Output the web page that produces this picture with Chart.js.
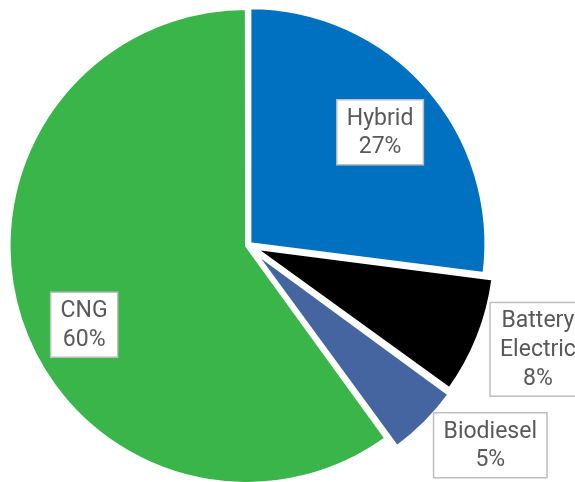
<!DOCTYPE html>
<html>
<head>
<meta charset="utf-8">
<script src="https://cdn.jsdelivr.net/npm/chart.js@4"></script>
<style>
  html, body { margin: 0; padding: 0; background: #fff; overflow: hidden; }
  #wrap { width: 575px; height: 482px; }
</style>
</head>
<body>
<div id="wrap"><canvas id="fuelPie" width="575" height="482"></canvas></div>
<script>
// fleet share by fuel type, clockwise from 12 o'clock
var categories = ['Hybrid', 'Battery Electric', 'Biodiesel', 'CNG'];
var shares = [27, 8, 5, 60];
var sliceColors = ['#0070C0', '#000000', '#4465A0', '#3AB54A'];
// chart.js shifts an arc by offset / 4 px
var sliceOffsets = [10, 30, 34, 6];

// where each callout box sits: distance from centre and a small angle nudge (deg)
var calloutPlace = [
    { dist: 174, nudge: 0.8 },
    { dist: 308, nudge: -1.9 },
    { dist: 314, nudge: -5.5 },
    { dist: 182, nudge: -7.8 }
];

var calloutPlugin = {
    id: 'callouts',
    afterDraw: function(chart) {
        var ctx = chart.ctx;
        var meta = chart.getDatasetMeta(0);
        var fontSize = 23;
        var lineH = 28.7;
        var padX = 10, padY = 3.8;
        ctx.save();
        ctx.font = fontSize + 'px Roboto';
        ctx.textAlign = 'center';
        ctx.textBaseline = 'middle';
        meta.data.forEach(function(arc, i) {
            var p = arc.getProps(['x', 'y', 'startAngle', 'endAngle'], true);
            var a = (p.startAngle + p.endAngle) / 2 + calloutPlace[i].nudge * Math.PI / 180;
            var cx = p.x + Math.cos(a) * calloutPlace[i].dist;
            var cy = p.y + Math.sin(a) * calloutPlace[i].dist;
            var lines = categories[i].split(' ');
            lines.push(shares[i] + '%');
            var w = 0;
            lines.forEach(function(t) { w = Math.max(w, ctx.measureText(t).width); });
            var bw = w + padX * 2;
            var bh = lines.length * lineH + padY * 2;
            var bx = cx - bw / 2, by = cy - bh / 2;
            ctx.fillStyle = '#ffffff';
            ctx.fillRect(bx, by, bw, bh);
            ctx.strokeStyle = '#BFBFBF';
            ctx.lineWidth = 1.5;
            ctx.strokeRect(bx, by, bw, bh);
            ctx.fillStyle = '#595959';
            lines.forEach(function(t, k) {
                ctx.fillText(t, cx, by + padY + lineH * (k + 0.5) + 1);
            });
        });
        ctx.restore();
    }
};

var pie = document.getElementById('fuelPie').getContext('2d');
var fuelPie = new Chart(pie, {
    type: 'pie',
    data: {
        labels: categories,
        datasets: [{
            data: shares,
            backgroundColor: sliceColors,
            borderColor: '#ffffff',
            borderWidth: 3,
            offset: sliceOffsets,
            hoverOffset: 0
        }]
    },
    options: {
        responsive: false,
        animation: false,
        radius: 236,
        layout: {
            padding: { left: 0, right: 79, top: 9, bottom: 0 }
        },
        plugins: {
            legend: { display: false },
            tooltip: { enabled: false },
            title: { display: false }
        }
    },
    plugins: [calloutPlugin]
});
</script>
</body>
</html>
